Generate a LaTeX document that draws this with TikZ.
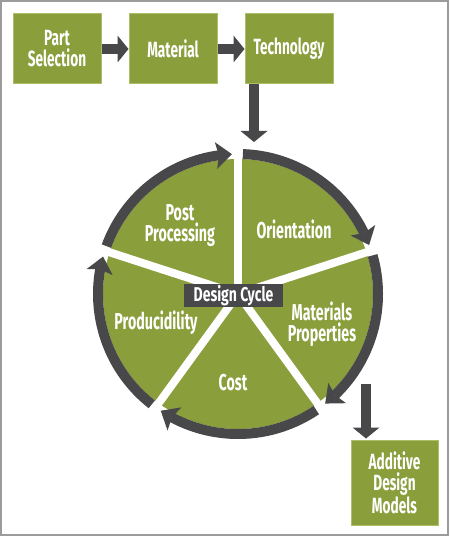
\documentclass[tikz,border=0pt]{standalone}
\usepackage{fontspec}
\newfontfamily\condfont{Fira Sans}[FakeStretch=0.62]
\newfontfamily\hubfont{Fira Sans}[FakeStretch=0.7]
\usetikzlibrary{arrows.meta,bending}
\definecolor{leafgreen}{RGB}{138,158,60}
\definecolor{leafedge}{RGB}{172,190,104}
\definecolor{slate}{RGB}{72,72,74}
\definecolor{framegrey}{RGB}{155,155,155}
\tikzset{
  stepbox/.style={fill=leafgreen,draw=leafedge,line width=1pt,minimum width=88pt,minimum height=70pt,
    inner sep=0pt,align=center,text=white,font=\condfont\bfseries\fontsize{22}{21}\selectfont},
  seclabel/.style={text=white,align=center,inner sep=0pt,font=\condfont\bfseries\fontsize{23}{21}\selectfont},
  flowarrow/.style={draw=slate,line width=10pt,-{Triangle[width=27pt,length=11pt,line width=0pt]}},
  ringarrow/.style={draw=slate,line width=10pt,-{Stealth[width=27pt,length=16pt,inset=3pt,line width=0pt]}},
  spoke/.style={draw=white,line width=8pt}
}
\begin{document}
\begin{tikzpicture}[x=1pt,y=1pt]
\useasboundingbox (0,0) rectangle (450,-537);
\draw[framegrey,line width=2pt] (1,-1) rectangle (448,-535);
\node[stepbox] (part) at (57,-49) {Part\\Selection};
\node[stepbox] (material) at (173,-49) {Material};
\node[stepbox] (tech) at (289,-49) {Technology};
\node[stepbox,minimum width=87pt,minimum height=85pt] (additive) at (394.5,-482.5) {Additive\\Design\\Models};
\coordinate (hub) at (238,-294);
\fill[leafgreen] (hub) circle[radius=135];
\foreach \a in {90,18,-54,-126,-198}
  \draw[spoke] (hub) -- ++(\a:137);
\foreach \a in {90,18,-54,-126,-198}
  \draw[ringarrow] (hub) ++(\a-2:140) arc[start angle=\a-2,end angle=\a-69.5,radius=140];
\node[fill=slate,minimum width=99pt,minimum height=23pt,inner sep=0pt,text=white,
  font=\hubfont\bfseries\fontsize{20}{19}\selectfont] (cycle) at (233.5,-295.5) {Design Cycle};
\node[seclabel] (post) at (180,-226) {Post\\Processing};
\node[seclabel] (orient) at (294,-229) {Orientation};
\node[seclabel] (matprop) at (322,-324) {Materials\\Properties};
\node[seclabel] (produc) at (156,-323) {Producidility};
\node[seclabel] (cost) at (233,-383) {Cost};
\draw[flowarrow] (part) -- (material);
\draw[flowarrow] (material) -- (tech);
\coordinate (cycletop) at (254,-142);
\draw[flowarrow] (tech.south -| cycletop) -- (cycletop);
\coordinate (mpout) at (366,-384);
\draw[flowarrow,shorten >=1pt] (mpout) -- (mpout |- additive.north);
\end{tikzpicture}
\end{document}
